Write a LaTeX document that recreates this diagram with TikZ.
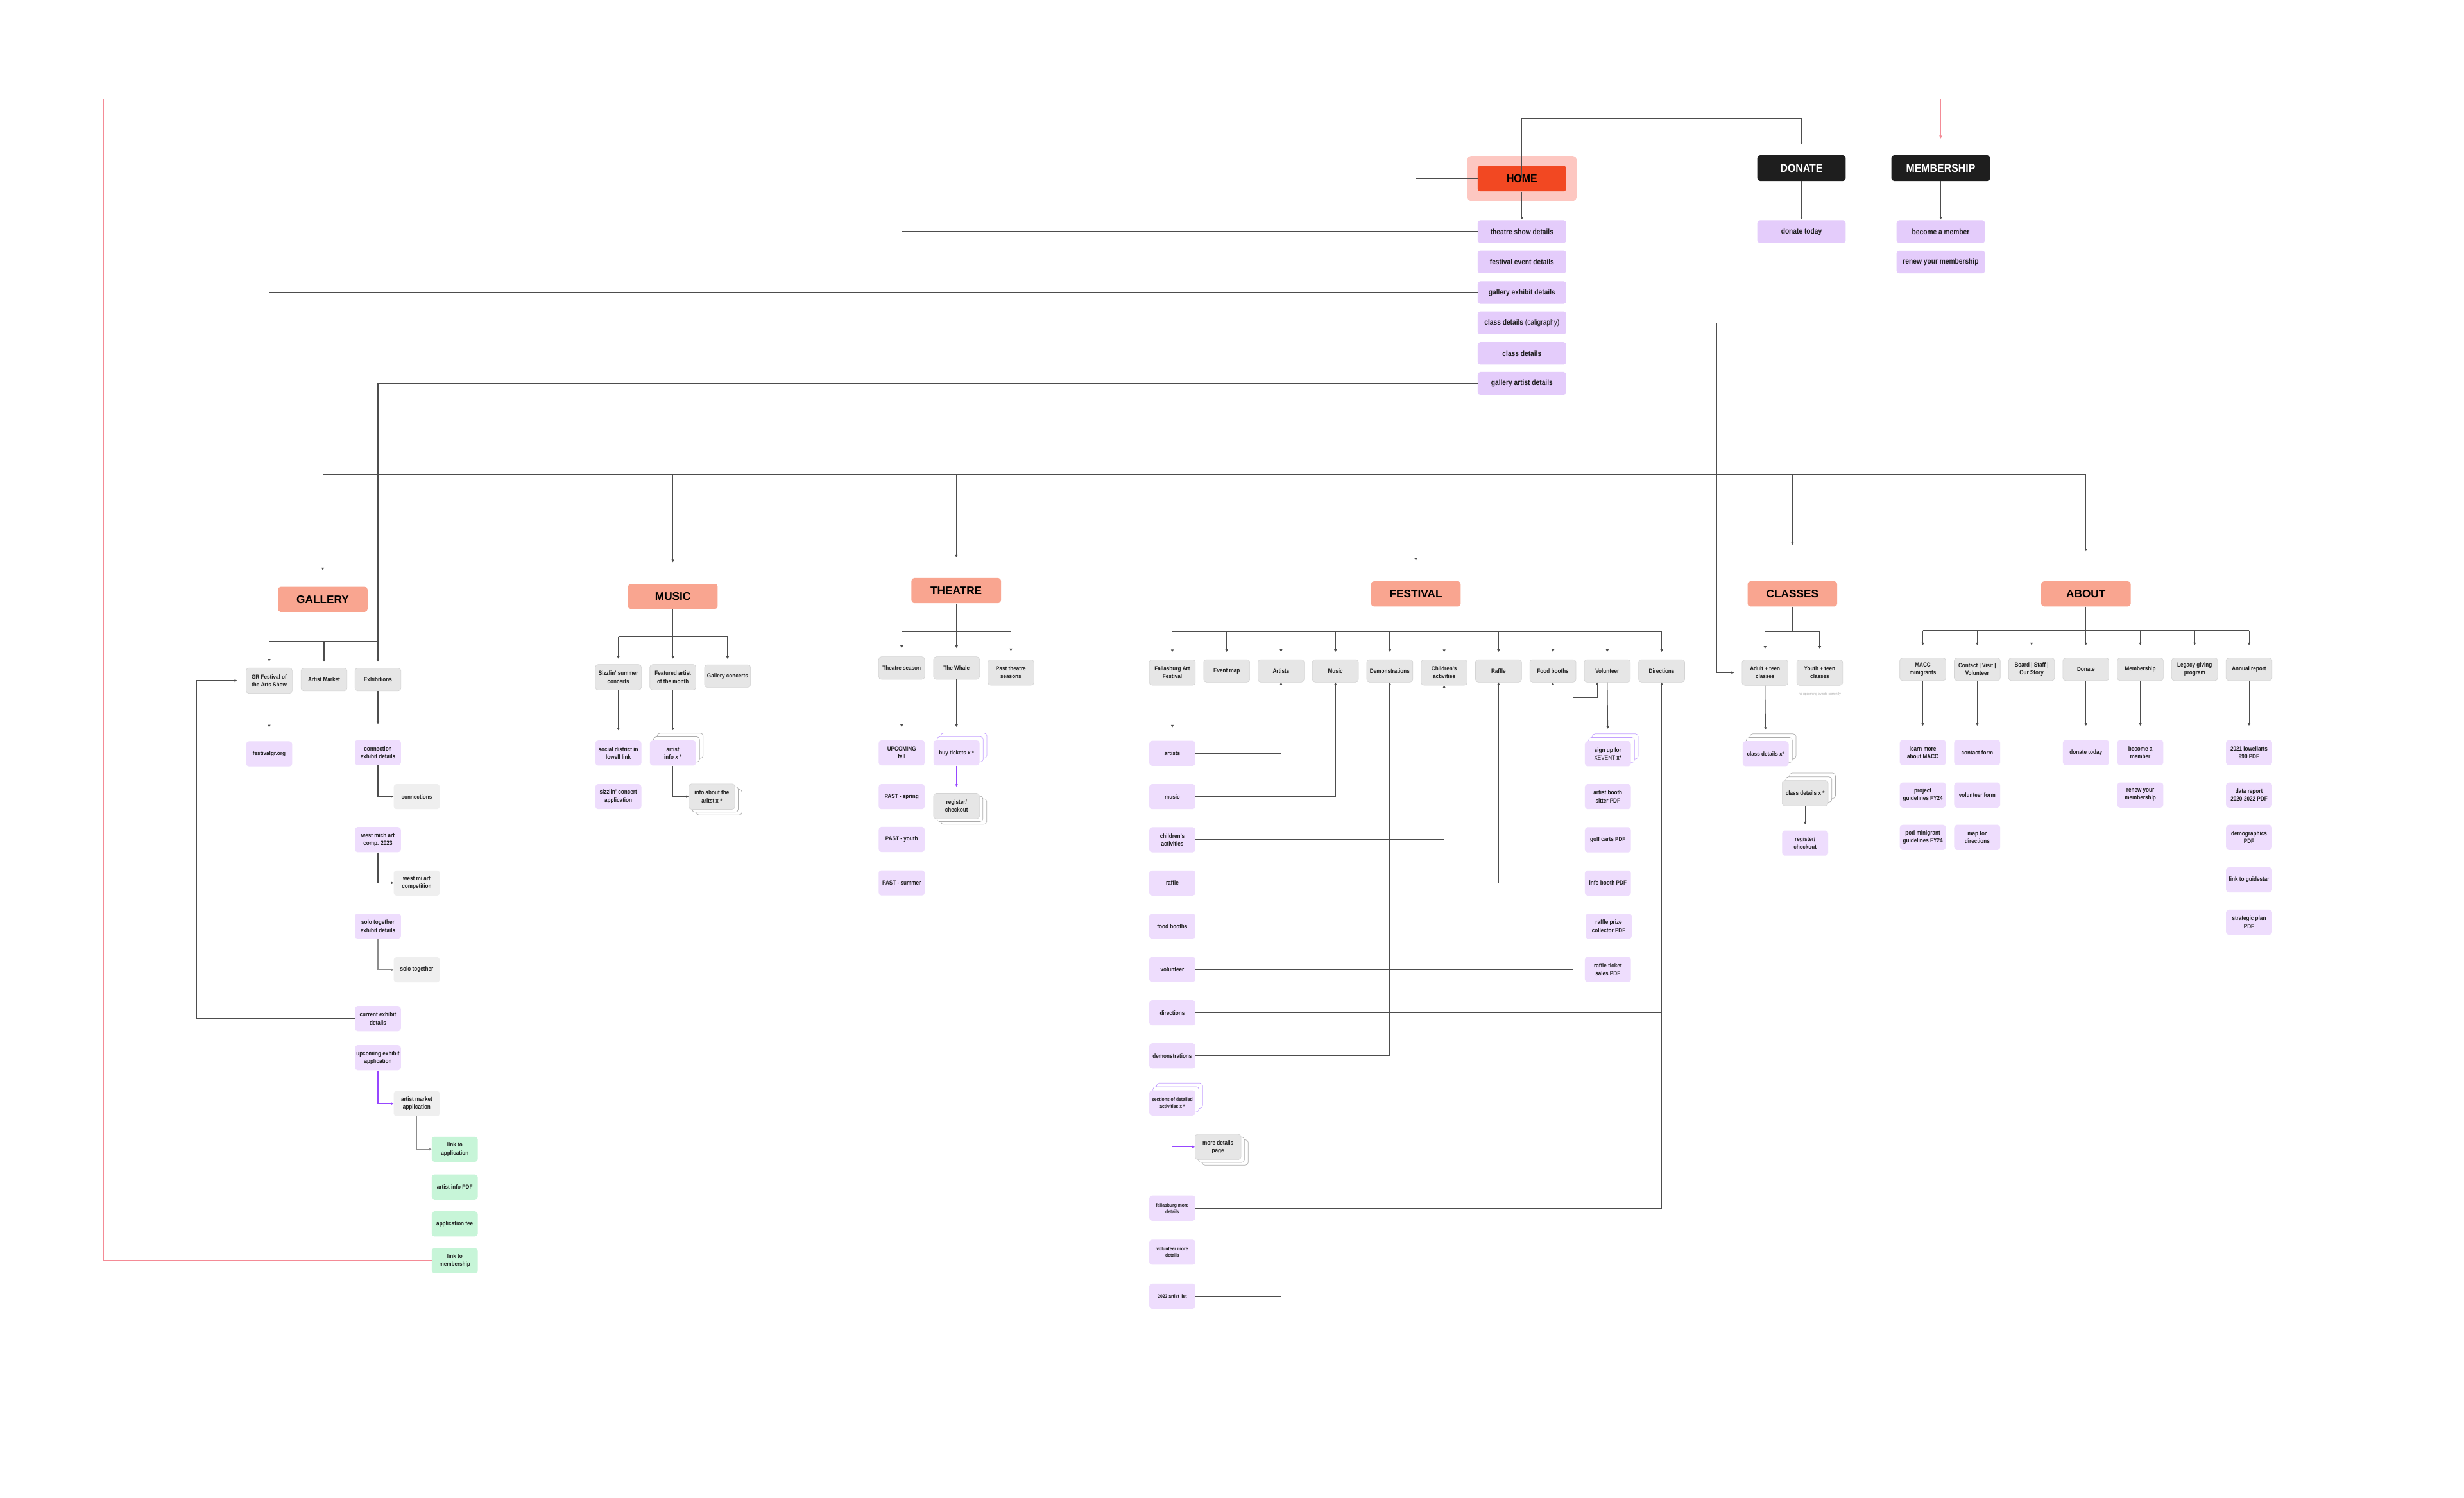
\documentclass[tikz,border=0pt]{standalone}
\usepackage{fontspec}
\setmainfont{Liberation Sans}
\newfontfamily\nsf{Liberation Sans}[FakeStretch=0.86]
\newfontfamily\csf{Liberation Sans}[FakeStretch=0.88]
\usetikzlibrary{arrows.meta,shadows,calc}
\definecolor{ink}{HTML}{1E1E1E}
\definecolor{salmon}{HTML}{F9A590}
\definecolor{homered}{HTML}{F24822}
\definecolor{homehl}{HTML}{FDC7C1}
\definecolor{blackbox}{HTML}{1E1E1E}
\definecolor{lavA}{HTML}{E4CCFB}
\definecolor{lavB}{HTML}{EEDDFD}
\definecolor{gfill}{HTML}{E6E6E6}
\definecolor{gline}{HTML}{D4D4D4}
\definecolor{lgfill}{HTML}{EFEFEF}
\definecolor{mint}{HTML}{C7F5D8}
\definecolor{lc}{HTML}{4D4D4D}
\definecolor{lcgray}{HTML}{8C8C8C}
\definecolor{purp}{HTML}{9747FF}
\definecolor{purpl}{HTML}{C4A0FF}
\definecolor{stackg}{HTML}{ABABAB}
\definecolor{redl}{HTML}{F48B96}
\definecolor{notegray}{HTML}{AAAAAA}
\tikzset{
 nbase/.style={rounded corners=2.5pt, inner sep=0pt, align=center, text=ink,
   font=\nsf\bfseries\fontsize{5.5}{7.1}\selectfont, minimum width=1.465cm},
 gbox/.style={nbase, fill=gfill, draw=gline, line width=0.35pt, minimum height=0.72cm},
 gtall/.style={gbox, minimum height=0.81cm},
 lgbox/.style={nbase, fill=lgfill, minimum height=0.8cm},
 lbox/.style={nbase, fill=lavB, minimum height=0.8cm},
 gnbox/.style={nbase, fill=mint, minimum height=0.8cm},
 hbox/.style={nbase, fill=lavA, minimum width=2.815cm, minimum height=0.72cm,
   font=\nsf\bfseries\fontsize{6.9}{8}\selectfont},
 secbox/.style={nbase, fill=salmon, minimum width=2.85cm, minimum height=0.8cm,
   font=\bfseries\fontsize{10}{12}\selectfont, text=black},
 blk/.style={nbase, fill=blackbox, text=white, minimum height=0.815cm,
   font=\csf\bfseries\fontsize{10.5}{12}\selectfont},
 smalltxt/.style={font=\nsf\bfseries\fontsize{4.6}{5.9}\selectfont},
 cline/.style={draw=lc, line width=0.6pt},
 arr/.style={cline, -{Triangle[length=2.3pt,width=2.3pt]}},
 garr/.style={draw=lcgray, line width=0.6pt, -{Triangle[length=2.3pt,width=2.3pt]}},
 parr/.style={draw=purp, line width=0.6pt, -{Triangle[length=2.3pt,width=2.3pt]}},
 redarr/.style={draw=redl, line width=0.8pt, -{Triangle[length=2.5pt,width=2.5pt]}},
 stackup/.style={general shadow={shadow scale=1, shadow xshift=6.6pt, shadow yshift=6.6pt, fill=white, draw=#1, line width=0.4pt},
                 general shadow={shadow scale=1, shadow xshift=3.3pt, shadow yshift=3.3pt, fill=white, draw=#1, line width=0.4pt}},
 stackdn/.style={general shadow={shadow scale=1, shadow xshift=6.5pt, shadow yshift=-5pt, fill=white, draw=#1, line width=0.4pt},
                 general shadow={shadow scale=1, shadow xshift=3pt, shadow yshift=-2.5pt, fill=white, draw=#1, line width=0.4pt}},
}
\begin{document}
\begin{tikzpicture}[x=0.05cm,y=-0.05cm]
\fill[white] (0,0) rectangle (1568,953.4);
\useasboundingbox (0,0) rectangle (1568,953.4);

% ---------------- top level
\node[fill=homehl, rounded corners=3pt, minimum width=3.47cm, minimum height=1.43cm, inner sep=0pt] (homehl) at (968.5,113.6) {};
\node[nbase, fill=homered, minimum width=2.815cm, minimum height=0.815cm, font=\csf\bfseries\fontsize{10.5}{12}\selectfont, text=black] (home) at (968.5,113.6) {HOME};
\node[blk, minimum width=2.815cm] (donate) at (1146.4,107) {DONATE};
\node[blk, minimum width=3.145cm] (membership) at (1235,107) {MEMBERSHIP};
\node[hbox] (dtoday) at (1146.4,147.4) {donate today};
\node[hbox] (bmem) at (1235,147.4) {become a member};
\node[hbox] (rmem) at (1235,166.8) {renew your membership};
\node[hbox] (h1) at (968.5,147.4) {theatre show details};
\node[hbox] (h2) at (968.5,166.7) {festival event details};
\node[hbox] (h3) at (968.5,186.2) {gallery exhibit details};
\node[hbox] (h4) at (968.5,205.5) {class details {\mdseries(caligraphy)}};
\node[hbox] (h5) at (968.5,224.9) {class details};
\node[hbox] (h6) at (968.5,244) {gallery artist details};

% ---------------- sections
\node[secbox] (gallery) at (205.4,381.5) {GALLERY};
\node[secbox] (music) at (428.2,379.6) {MUSIC};
\node[secbox] (theatre) at (608.5,375.9) {THEATRE};
\node[secbox] (festival) at (901,378) {FESTIVAL};
\node[secbox] (classes) at (1140.6,378) {CLASSES};
\node[secbox] (about) at (1327.4,378) {ABOUT};

% ---------------- gallery
\node[gtall] (gr) at (171.3,433.2) {GR Festival of\\the Arts Show};
\node[gbox] (artmkt) at (206.2,432.5) {Artist Market};
\node[gbox] (exh) at (240.5,432.5) {Exhibitions};
\node[lbox] (fgr) at (171.3,479.8) {festivalgr.org};
\node[lbox] (conn) at (240.5,479) {connection\\exhibit details};
\node[lgbox] (conns) at (265.2,507) {connections};
\node[lbox] (wmich) at (240.5,534.4) {west mich art\\comp. 2023};
\node[lgbox] (wmi) at (265.2,562) {west mi art\\competition};
\node[lbox] (solox) at (240.5,589.5) {solo together\\exhibit details};
\node[lgbox] (solo) at (265.2,617.2) {solo together};
\node[lbox] (cur) at (240.5,648.3) {current exhibit\\details};
\node[lbox] (upc) at (240.5,673.2) {upcoming exhibit\\application};
\node[lgbox] (ama) at (265.2,702.4) {artist market\\application};
\node[gnbox] (lapp) at (289.4,731.5) {link to\\application};
\node[gnbox] (ainfo) at (289.4,755.5) {artist info PDF};
\node[gnbox] (afee) at (289.4,779) {application fee};
\node[gnbox] (lmem) at (289.4,802.4) {link to\\membership};

% ---------------- music
\node[gtall] (sizz) at (393.5,431) {Sizzlin’ summer\\concerts};
\node[gtall] (feat) at (428.2,431) {Featured artist\\of the month};
\node[gbox] (gconc) at (463,430.3) {Gallery concerts};
\node[lbox] (social) at (393.5,479.3) {social district in\\lowell link};
\node[lbox] (sizzapp) at (393.5,507) {sizzlin’ concert\\application};
\node[lbox, stackup=stackg] (artinfo) at (428.2,479.3) {artist\\info x *};
\node[gtall, stackdn=stackg] (infoab) at (453,507) {info about the\\aritst x *};

% ---------------- theatre
\node[gbox] (tseason) at (573.8,425.2) {Theatre season};
\node[gbox] (whale) at (608.7,425.2) {The Whale};
\node[gtall] (pastth) at (643.3,428) {Past theatre\\seasons};
\node[lbox] (upfall) at (573.8,479.2) {UPCOMING\\fall};
\node[lbox] (pspring) at (573.8,507) {PAST - spring};
\node[lbox] (pyouth) at (573.8,534.3) {PAST - youth};
\node[lbox] (psummer) at (573.8,561.9) {PAST - summer};
\node[lbox, stackup=purpl] (buytix) at (608.7,479.2) {buy tickets x *};
\node[gtall, stackdn=stackg] (regck) at (608.7,513) {register/\\checkout};

% ---------------- festival
\node[gtall] (fal) at (746,428) {Fallasburg Art\\Festival};
\node[gbox] (evmap) at (780.6,427) {Event map};
\node[gbox] (fart) at (815.2,427) {Artists};
\node[gbox] (fmus) at (849.8,427) {Music};
\node[gbox] (fdem) at (884.4,427) {Demonstrations};
\node[gtall] (fchild) at (919,428) {Children’s\\activities};
\node[gbox] (fraf) at (953.6,427) {Raffle};
\node[gbox] (ffood) at (988.2,427) {Food booths};
\node[gbox] (fvol) at (1022.8,427) {Volunteer};
\node[gbox] (fdir) at (1057.4,427) {Directions};
\node[lbox] (fa1) at (746,479.5) {artists};
\node[lbox] (fa2) at (746,507) {music};
\node[lbox] (fa3) at (746,534.5) {children’s\\activities};
\node[lbox] (fa4) at (746,562) {raffle};
\node[lbox] (fa5) at (746,589.5) {food booths};
\node[lbox] (fa6) at (746,617) {volunteer};
\node[lbox] (fa7) at (746,644.6) {directions};
\node[lbox] (fa8) at (746,672) {demonstrations};
\node[lbox, smalltxt, stackup=purpl] (fa9) at (746,702) {sections of detailed\\activities x *};
\node[gtall, stackdn=stackg] (more) at (775.1,730) {more details\\page};
\node[lbox, smalltxt] (fa10) at (746,769) {fallasburg more\\details};
\node[lbox, smalltxt] (fa11) at (746,797) {volunteer more\\details};
\node[lbox, smalltxt] (fa12) at (746,825) {2023 artist list};
\node[lbox, stackup=purpl] (v1) at (1023.2,479.7) {sign up for\\{\mdseries XEVENT} x*};
\node[lbox] (v2) at (1023.2,507) {artist booth\\sitter PDF};
\node[lbox] (v3) at (1023.2,534.5) {golf carts PDF};
\node[lbox] (v4) at (1023.2,562) {info booth PDF};
\node[lbox] (v5) at (1023.7,589.5) {raffle prize\\collector PDF};
\node[lbox] (v6) at (1023.2,617) {raffle ticket\\sales PDF};

% ---------------- classes
\node[gtall] (adult) at (1123.2,428.1) {Adult + teen\\classes};
\node[gtall] (youth) at (1158,428.1) {Youth + teen\\classes};
\node[font=\nsf\fontsize{3.4}{4}\selectfont, text=notegray, inner sep=0pt] (note) at (1158,441.6) {no upcoming events currently};
\node[lbox, stackup=stackg] (clsx) at (1123.6,479.7) {class details x*};
\node[gtall, stackup=stackg] (clsx2) at (1148.7,504.8) {class details x *};
\node[lbox] (regc) at (1148.7,536.6) {register/\\checkout};

% ---------------- about
\node[gbox] (macc) at (1223.6,426) {MACC\\minigrants};
\node[gbox] (contact) at (1258.2,426) {Contact | Visit |\\Volunteer};
\node[gbox] (board) at (1292.8,426) {Board | Staff |\\Our Story};
\node[gbox] (adon) at (1327.4,426) {Donate};
\node[gbox] (amem) at (1362,426) {Membership};
\node[gbox] (legacy) at (1396.6,426) {Legacy giving\\program};
\node[gbox] (annual) at (1431.2,426) {Annual report};
\node[lbox] (a11) at (1223.6,479) {learn more\\about MACC};
\node[lbox] (a12) at (1223.6,506) {project\\guidelines FY24};
\node[lbox] (a13) at (1223.6,533) {pod minigrant\\guidelines FY24};
\node[lbox] (a21) at (1258.2,479) {contact form};
\node[lbox] (a22) at (1258.2,506) {volunteer form};
\node[lbox] (a23) at (1258.2,533) {map for\\directions};
\node[lbox] (a31) at (1327.4,479) {donate today};
\node[lbox] (a41) at (1362,479) {become a\\member};
\node[lbox] (a42) at (1362,506) {renew your\\membership};
\node[lbox] (a51) at (1431.2,479) {2021 lowellarts\\990 PDF};
\node[lbox] (a52) at (1431.2,506) {data report\\2020-2022 PDF};
\node[lbox] (a53) at (1431.2,533) {demographics\\PDF};
\node[lbox] (a54) at (1431.2,560) {link to guidestar};
\node[lbox] (a55) at (1431.2,587) {strategic plan\\PDF};

% ================= connectors
\coordinate (busm) at (0,302);
\coordinate (gbus) at (0,408.3);
\coordinate (mbus) at (0,405.3);
\coordinate (tbus) at (0,401.8);
\coordinate (fbus) at (0,401.8);
\coordinate (cbus) at (0,401.8);
\coordinate (abus) at (0,401.2);
\coordinate (cvx) at (1092.4,0);

% top
\draw[arr, shorten >=0.5pt] (home.south) -- (h1.north);
\draw[arr, shorten >=0.34cm] (home.center) |- (1146.4,75.3) -- (donate.north);
\draw[arr, shorten >=0.5pt] (donate.south) -- (dtoday.north);
\draw[arr, shorten >=0.5pt] (membership.south) -- (bmem.north);
\draw[redarr, shorten >=0.53cm] (lmem.west) -| (66,63.2) -| (membership.north);
\draw[arr, shorten >=0.65cm] (home.west) -| (festival.north);
\draw[cline] (gallery.north |- busm) -- (about.north |- busm);
\draw[arr, shorten >=0.52cm] (gallery.north |- busm) -- (gallery.north);
\draw[arr, shorten >=0.68cm] (music.north |- busm) -- (music.north);
\draw[arr, shorten >=0.65cm] (theatre.north |- busm) -- (theatre.north);
\draw[arr, shorten >=1.15cm] (classes.north |- busm) -- (classes.north);
\draw[arr, shorten >=0.95cm] (about.north |- busm) -- (about.north);

% gallery
\draw[cline] (gallery.south) -- (gallery.south |- gbus);
\draw[cline] (gr.north |- gbus) -- (exh.north |- gbus);
\draw[arr, shorten >=0.2cm] (artmkt.north |- gbus) -- (artmkt.north);
\draw[arr, shorten >=0.2cm] (h3.west) -| (gr.north);
\draw[arr, shorten >=0.2cm] (h6.west) -| (exh.north);
\draw[arr, shorten >=0.44cm] (gr.south) -- (fgr.north);
\draw[arr, shorten >=0.5cm] (exh.south) -- (conn.north);
\draw[arr] (conn.south) |- (conns.west);
\draw[arr] (wmich.south) |- (wmi.west);
\draw[garr] (solox.south) |- (solo.west);
\draw[arr, shorten >=0.28cm] (cur.west) -| (125,433.2) -- (gr.west);
\draw[parr] (upc.south) |- (ama.west);
\draw[garr] (ama.south) |- (lapp.west);

% music
\draw[cline] (music.south) -- (music.south |- mbus);
\draw[cline] (sizz.north |- mbus) -- (gconc.north |- mbus);
\foreach \n in {sizz,feat,gconc} \draw[arr, shorten >=0.18cm] (\n.north |- mbus) -- (\n.north);
\draw[arr, shorten >=0.32cm] (sizz.south) -- (social.north);
\draw[arr, shorten >=0.32cm] (feat.south) -- (artinfo.north);
\draw[arr] (artinfo.south) |- (infoab.west);

% theatre
\draw[cline] (theatre.south) -- (theatre.south |- tbus);
\draw[cline] (tseason.north |- tbus) -- (pastth.north |- tbus);
\draw[arr, shorten >=0.27cm] (h1.west) -| (tseason.north);
\draw[arr, shorten >=0.27cm] (whale.north |- tbus) -- (whale.north);
\draw[arr, shorten >=0.27cm] (pastth.north |- tbus) -- (pastth.north);
\draw[arr, shorten >=0.42cm] (tseason.south) -- (upfall.north);
\draw[arr, shorten >=0.42cm] (whale.south) -- (buytix.north);
\draw[parr, shorten >=0.2cm] (buytix.south) -- (regck.north);

% festival
\draw[cline] (festival.south) -- (festival.south |- fbus);
\draw[cline] (fal.north |- fbus) -- (fdir.north |- fbus);
\draw[arr, shorten >=0.24cm] (h2.west) -| (fal.north);
\foreach \n in {evmap,fart,fmus,fdem,fchild,fraf,ffood,fvol,fdir} \draw[arr, shorten >=0.24cm] (\n.north |- fbus) -- (\n.north);
\draw[arr, shorten >=0.42cm] (fal.south) -- (fa1.north);
\draw[arr] (fa12.east) -| (fart.south);
\draw[cline] (fa1.east) -- (fa1.east -| fart.south);
\draw[arr] (fa2.east) -| (fmus.south);
\draw[arr] (fa3.east) -| (fchild.south);
\draw[arr] (fa4.east) -| (fraf.south);
\draw[arr] (fa5.east) -| (977.3,443.7) -| (ffood.south);
\draw[arr] (fa11.east) -| (1001.2,444) -| ($(fvol.south)+(-6.4,0)$);
\draw[cline] (fa6.east) -- (1001.2,617);
\draw[arr] (fa10.east) -| (fdir.south);
\draw[cline] (fa7.east) -- (fa7.east -| fdir.south);
\draw[arr] (fa8.east) -| (fdem.south);
\draw[parr] (fa9.south) |- (more.west);
\draw[arr, shorten >=0.39cm] (fvol.south) -- (v1.north);

% classes
\draw[cline] (classes.south) -- (classes.south |- cbus);
\draw[cline] (adult.north |- cbus) -- (youth.north |- cbus);
\draw[arr, shorten >=0.35cm] (adult.north |- cbus) -- (adult.north);
\draw[arr, shorten >=0.35cm] (youth.north |- cbus) -- (youth.north);
\draw[arr, shorten >=0.25cm] (h4.east) -| (cvx |- adult.west) -- (adult.west);
\draw[cline] (h5.east) -- (h5.east -| cvx);
\draw[arr, shorten >=0.36cm] (adult.south) -- (clsx.north);
\draw[arr, shorten >=0.19cm] (clsx2.south) -- (regc.north);

% about
\draw[cline] (about.south) -- (about.south |- abus);
\draw[cline] (macc.north |- abus) -- (annual.north |- abus);
\foreach \n in {macc,contact,board,adon,amem,legacy,annual} \draw[arr, shorten >=0.4cm] (\n.north |- abus) -- (\n.north);
\foreach \a/\b in {macc/a11,contact/a21,adon/a31,amem/a41,annual/a51} \draw[arr, shorten >=0.45cm] (\a.south) -- (\b.north);
\end{tikzpicture}
\end{document}
